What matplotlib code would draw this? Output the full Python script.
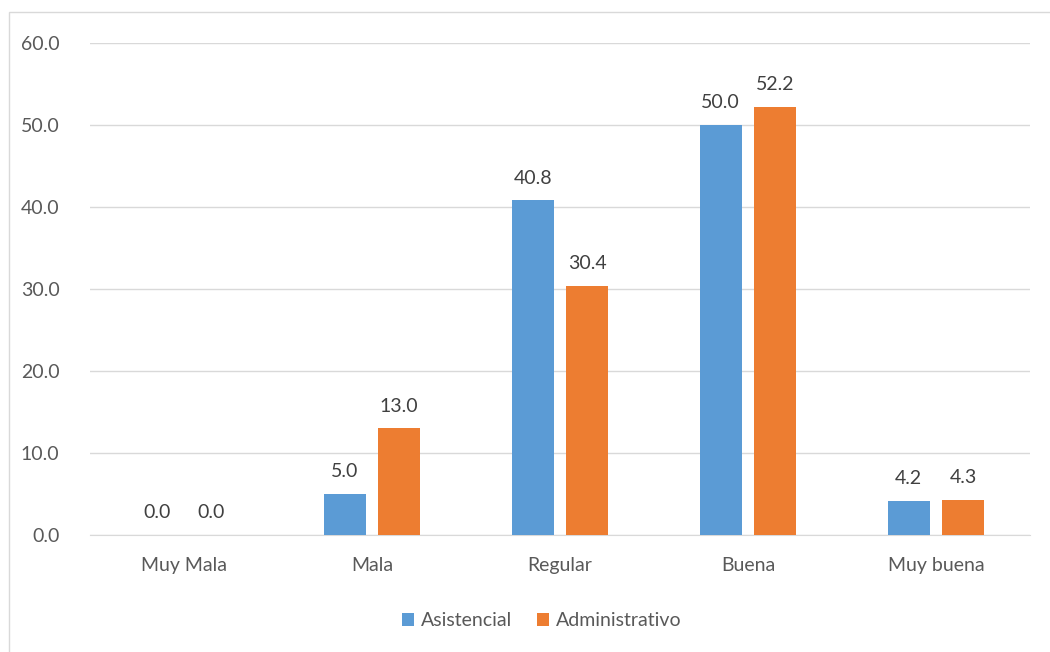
import matplotlib.pyplot as plt
import matplotlib.patches as mpatches
import numpy as np

plt.rcParams['font.family'] = ['Lato', 'DejaVu Sans']

categorias = ['Muy Mala', 'Mala', 'Regular', 'Buena', 'Muy buena']
asistencial = [0.0, 5.0, 40.8, 50.0, 4.2]
administrativo = [0.0, 13.0, 30.4, 52.2, 4.3]
series = ['Asistencial', 'Administrativo']
colores = ['#5B9BD5', '#ED7D31']
gris = '#595959'

fig = plt.figure(figsize=(10.5, 6.52), dpi=100)
ax = fig.add_axes([0.0857, 0.1794, 0.8953, 0.7546])

x = np.arange(len(categorias))
w = 0.225
off = 0.145
b1 = ax.bar(x - off, asistencial, w, color=colores[0], label=series[0], zorder=3)
b2 = ax.bar(x + off, administrativo, w, color=colores[1], label=series[1], zorder=3)

for bars in (b1, b2):
    for b in bars:
        h = b.get_height()
        ax.annotate(f'{h:.1f}', (b.get_x() + b.get_width() / 2, h),
                    xytext=(0, 10), textcoords='offset points',
                    ha='center', va='bottom', fontsize=14, color='#404040')

ax.set_xlim(-0.5, len(categorias) - 0.5)
ax.set_ylim(0, 60)
ax.set_yticks(np.arange(0, 61, 10))
ax.set_yticklabels([f'{v:.1f}' for v in np.arange(0, 61, 10)])
ax.set_xticks(x)
ax.set_xticklabels(categorias)
ax.yaxis.grid(True, color='#D9D9D9', linewidth=1, zorder=0)
for s in ['top', 'right', 'left']:
    ax.spines[s].set_visible(False)
ax.spines['bottom'].set_color('#D9D9D9')
ax.tick_params(axis='both', length=0, labelsize=14, colors=gris)
ax.tick_params(axis='x', pad=16)
ax.tick_params(axis='y', pad=22)

leg = fig.legend(loc='center', bbox_to_anchor=(0.516, 0.048), ncol=2, frameon=False,
                 fontsize=14, handlelength=0.6, handleheight=0.6, columnspacing=1.3,
                 handletextpad=0.35)
for t in leg.get_texts():
    t.set_color(gris)

fig.patches.append(mpatches.Rectangle((0.0086, -0.01), 1.1, 0.992, transform=fig.transFigure,
                                      fill=False, edgecolor='#D9D9D9', linewidth=1))

fig.savefig('out.png', dpi=100)
